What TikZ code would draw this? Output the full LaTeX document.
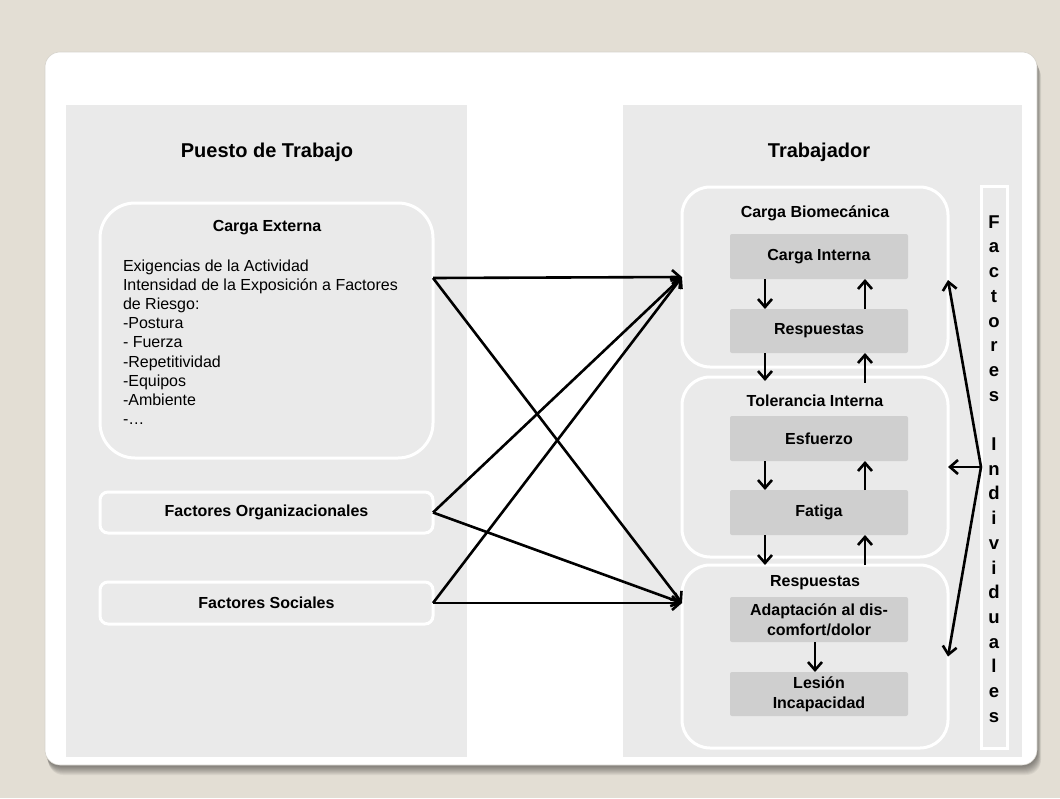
\documentclass[tikz,border=0pt]{standalone}
\usepackage{fontspec}
\setmainfont{Liberation Sans}
\usetikzlibrary{arrows.meta}
\definecolor{bgbeige}{HTML}{E3DED4}
\definecolor{panelgray}{HTML}{EAEAEA}
\definecolor{boxgray}{HTML}{CFCFCF}
\definecolor{cardedge}{HTML}{D6D3CC}

\begin{document}
\begin{tikzpicture}[x=1pt,y=-1pt,
  every node/.style={outer sep=0pt,inner sep=0pt},
  panel/.style={fill=panelgray,draw=none},
  outerbox/.style={draw=white,line width=3pt,fill=panelgray,rounded corners=#1},
  outerbox/.default=28pt,
  innerbox/.style={fill=boxgray,rounded corners=2pt,minimum width=178pt,align=center,
    font=\fontsize{16}{20}\selectfont\bfseries},
  factorbox/.style={draw=white,line width=3pt,fill=panelgray,rounded corners=8pt,
    minimum width=333pt,font=\fontsize{16}{20}\selectfont\bfseries},
  heading/.style={anchor=base,font=\fontsize{20}{24}\selectfont\bfseries},
  boxtitle/.style={anchor=base,font=\fontsize{16}{20}\selectfont\bfseries},
  arr/.style={line width=2.6pt,-{Straight Barb[length=8pt,width=14pt]}}
]
% page and card
\fill[bgbeige] (0,0) rectangle (1060,798);
\foreach \s in {1,...,10}
  \fill[black,opacity=0.05,rounded corners=15pt] (45+\s/3,52+\s) rectangle (1037+\s/2.5,765+\s);
\fill[white,draw=cardedge,line width=0.6pt,rounded corners=15pt] (45,52) rectangle (1037,765);

% two columns
\fill[panel] (66,105) rectangle (467,757);
\fill[panel] (623,105) rectangle (1022,757);
\node[heading] (hpuesto) at (267,157.5) {Puesto de Trabajo};
\node[heading] (htrab) at (819,157.5) {Trabajador};

% workplace side
\node[outerbox=35pt,minimum width=333pt,minimum height=255pt] (ext) at (266.5,330.5) {};
\node[boxtitle] (extt) at (267,231) {Carga Externa};
\node[anchor=north west,align=left,font=\fontsize{16}{19.2}\selectfont] (extbody) at (123,259.5)
  {Exigencias de la Actividad\\Intensidad de la Exposición a Factores\\de Riesgo:\\-Postura\\- Fuerza\\-Repetitividad\\-Equipos\\-Ambiente\\-…};
\node[factorbox,minimum height=41pt] (org) at (266.5,512.5) {Factores Organizacionales};
\node[factorbox,minimum height=42pt] (soc) at (266.5,603) {Factores Sociales};

% worker side
\node[outerbox,minimum width=266pt,minimum height=180pt] (bio) at (815,277) {};
\node[outerbox,minimum width=266pt,minimum height=180pt] (tol) at (815,467) {};
\node[outerbox,minimum width=266pt,minimum height=183pt] (res) at (815,656.5) {};
\node[boxtitle] (biot) at (815,217) {Carga Biomecánica};
\node[boxtitle] (tolt) at (815,406) {Tolerancia Interna};
\node[boxtitle] (rest) at (815,586.7) {Respuestas};

\node[innerbox,minimum height=45pt] (ci) at (819,256.5) {Carga Interna};
\node[innerbox,minimum height=44pt] (r1) at (819,331) {Respuestas};
\node[innerbox,minimum height=45pt] (esf) at (819,438.5) {Esfuerzo};
\node[innerbox,minimum height=45pt] (fat) at (819,512.5) {Fatiga};
\node[innerbox,minimum height=45pt] (ada) at (819,619.5) {Adaptación al dis-\\comfort/dolor};
\node[innerbox,minimum height=44pt] (les) at (819,694) {Lesión\\Incapacidad};

\node[draw=white,line width=3pt,fill=panelgray,minimum width=26pt,minimum height=562pt] (fi) at (994,467) {};
\node[align=center,font=\fontsize{18.5}{24.7}\selectfont\bfseries] (fit) at (994,469)
  {F\\a\\c\\t\\o\\r\\e\\s\\\mbox{}\\I\\n\\d\\i\\v\\i\\d\\u\\a\\l\\e\\s};

% internal cycles
\draw[arr] ([xshift=-54pt]ci.south) -- ([xshift=-54pt]r1.north);
\draw[arr] ([xshift=46pt]r1.north) -- ([xshift=46pt]ci.south);
\draw[arr] ([xshift=-54pt]r1.south) -- ([xshift=-54pt,yshift=-4pt]r1.south |- tol.north);
\draw[arr] ([xshift=46pt,yshift=-6pt]r1.south |- tol.north) -- ([xshift=46pt]r1.south);
\draw[arr] ([xshift=-54pt]esf.south) -- ([xshift=-54pt]fat.north);
\draw[arr] ([xshift=46pt]fat.north) -- ([xshift=46pt]esf.south);
\draw[arr] ([xshift=-54pt]fat.south) -- ([xshift=-54pt]fat.south |- res.north);
\draw[arr] ([xshift=46pt]fat.south |- res.north) -- ([xshift=46pt]fat.south);
\draw[arr] ([xshift=-4pt]ada.south) -- ([xshift=-4pt]les.north);

% influences from the workplace
\coordinate (extout) at (433,278);
\coordinate (resin) at (682,603);
\draw[arr] (extout) -- (bio.west);
\draw[arr] (extout) -- (resin);
\draw[arr] (org.east) -- (bio.west);
\draw[arr] (org.east) -- (resin);
\draw[arr] (soc.east) -- (bio.west);
\draw[arr] (soc.east) -- (resin);

% individual factors
\draw[arr] (fi.west) -- ([yshift=-3pt]bio.east);
\draw[arr] (fi.west) -- (tol.east);
\draw[arr] (fi.west) -- (res.east);
\end{tikzpicture}
\end{document}
